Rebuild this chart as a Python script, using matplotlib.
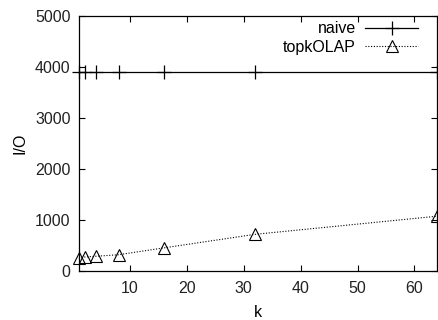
import matplotlib
matplotlib.use("Agg")
import matplotlib.pyplot as plt

matplotlib.rcParams.update({
    "font.family": ["Liberation Sans", "DejaVu Sans"],
    "font.size": 11.5,
})

# ── Data ────────────────────────────────────────────────────────────────
k_values = [1, 2, 4, 8, 16, 32, 64]
naive_io = [3900, 3900, 3900, 3900, 3900, 3900, 3900]
topk_io = [250, 275, 290, 320, 455, 720, 1075]

x_ticks = [10, 20, 30, 40, 50, 60]
y_ticks = [0, 1000, 2000, 3000, 4000, 5000]

fig = plt.figure(figsize=(4.38, 3.2), dpi=100)
ax = fig.add_axes([0.180, 0.153, 0.818, 0.797])

ax.plot(k_values, naive_io, color="black", linewidth=0.9, marker="+",
        markersize=10, markeredgewidth=0.9, label="naive", clip_on=False)
ax.plot(k_values, topk_io, color="black", linewidth=0.8, linestyle=(0, (1, 1.5)),
        marker="^", markersize=8.5, markerfacecolor="none",
        markeredgewidth=0.8, label="topkOLAP", clip_on=False)

ax.set_xlim(1, 64)
ax.set_ylim(0, 5000)
ax.set_xticks(x_ticks)
ax.set_yticks(y_ticks)
ax.tick_params(direction="in", length=4, width=0.8, top=True, right=True,
               colors="black", labelcolor="#222222")
ax.tick_params(axis="x", pad=7)
ax.tick_params(axis="y", pad=6)
for sp in ax.spines.values():
    sp.set_linewidth(0.9)

ax.set_xlabel("k", labelpad=7)
ax.set_ylabel("I/O", labelpad=5)

ax.legend(loc="upper right", frameon=False, markerfirst=False,
          handlelength=3.3, handletextpad=0.6, labelspacing=0.2,
          borderaxespad=0.0, bbox_to_anchor=(0.965, 1.004))

fig.savefig("out.png", dpi=100)
